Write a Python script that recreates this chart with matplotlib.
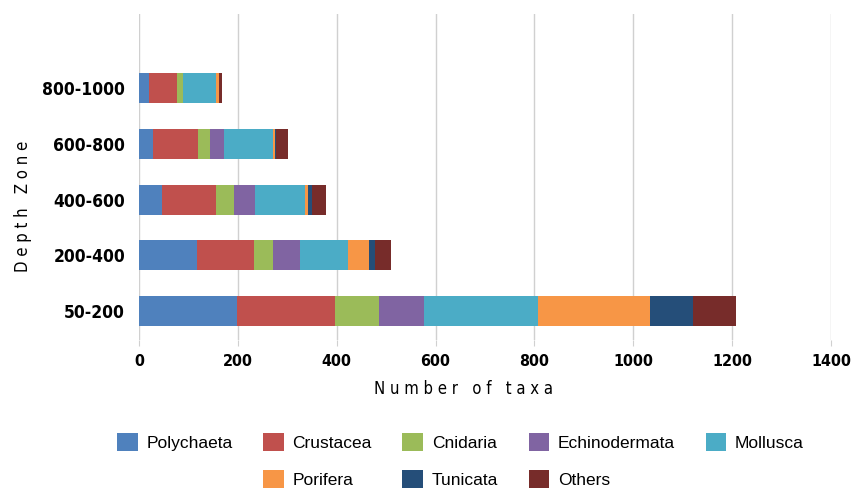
import matplotlib.pyplot as plt
import matplotlib.patches as mpatches
import numpy as np

# dados
zonas = ['50-200', '200-400', '400-600', '600-800', '800-1000']
grupos = ['Polychaeta', 'Crustacea', 'Cnidaria', 'Echinodermata', 'Mollusca',
          'Porifera', 'Tunicata', 'Others']
polychaeta = [199, 118, 46, 29, 20]
crustacea = [197, 114, 110, 90, 57]
cnidaria = [89, 40, 37, 25, 12]
echinodermata = [91, 54, 41, 29, 0]
mollusca = [232, 97, 102, 99, 67]
porifera = [225, 42, 6, 3, 5]
tunicata = [87, 12, 9, 2, 1]
others = [87, 33, 28, 25, 6]
cores = ['#4F81BD', '#C0504D', '#9BBB59', '#8064A2', '#4BACC6',
         '#F79646', '#254E79', '#772C2A']

valores = [polychaeta, crustacea, cnidaria, echinodermata, mollusca,
           porifera, tunicata, others]

fonte_eixo = ['DejaVu Sans']


def espacar(texto):
    # letras separadas como no original
    return '   '.join(' '.join(p) for p in texto.split(' '))


fig = plt.figure(figsize=(8.51, 4.9), dpi=100)
ax = fig.add_axes([0.1633, 0.306, 0.8132, 0.665])

y = np.arange(len(zonas))
base = np.zeros(len(zonas))
for nome, vals, cor in zip(grupos, valores, cores):
    ax.barh(y, vals, left=base, height=0.54, color=cor, label=nome, linewidth=0, zorder=3)
    base += np.array(vals)

ax.set_xlim(0, 1400)
ax.set_ylim(-0.52, 5.33)
ax.set_xticks(np.arange(0, 1401, 200))
ax.set_yticks(y)
ax.set_yticklabels(zonas)
ax.grid(axis='x', color='#d0d0d0', linewidth=1, zorder=0)
for s in ax.spines.values():
    s.set_visible(False)
ax.tick_params(axis='x', length=4, color='#d0d0d0', pad=6)
ax.tick_params(axis='y', length=0, pad=10)
for lbl in ax.get_yticklabels():
    lbl.set_fontfamily(fonte_eixo)
    lbl.set_fontstretch('condensed')
    lbl.set_fontweight('bold')
    lbl.set_fontsize(12.5)
for lbl in ax.get_xticklabels():
    lbl.set_fontfamily(fonte_eixo)
    lbl.set_fontstretch('condensed')
    lbl.set_fontweight('bold')
    lbl.set_fontsize(11.5)

ax.set_xlabel(espacar('Number of taxa'), family=fonte_eixo, stretch='condensed',
              fontsize=12, labelpad=8)
ax.set_ylabel(espacar('Depth Zone'), family=fonte_eixo, stretch='condensed',
              fontsize=12)
ax.xaxis.label.set_x(0.469)
ax.yaxis.set_label_coords(-0.155, 0.41)

# legenda em grade (coluna por coluna)
handles, labels = ax.get_legend_handles_labels()
vazio = mpatches.Patch(color='none', label='')
ordem = [handles[0], vazio, handles[1], handles[5], handles[2], handles[6],
         handles[3], handles[7], handles[4], vazio]
nomes = [h.get_label() for h in ordem]
fig.legend(ordem, nomes, loc='lower center', bbox_to_anchor=(0.541, -0.027), ncol=5,
           frameon=False, prop={'family': 'Liberation Sans', 'size': 12.5},
           handlelength=1.2, handleheight=1.2, handletextpad=0.5,
           columnspacing=1.75, labelspacing=1.1)

plt.savefig('out.png', dpi=100)
